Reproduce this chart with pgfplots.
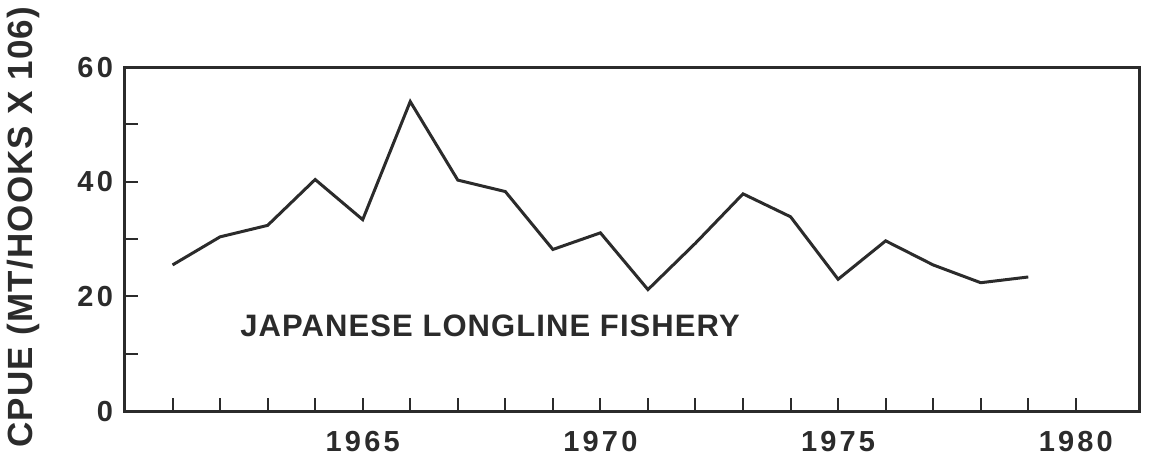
\documentclass[border=0pt]{standalone}
\usepackage{fontspec}
\setmainfont{Liberation Sans}
\newfontfamily\tickfont[LetterSpace=11]{Liberation Sans}
\newfontfamily\labfont[LetterSpace=3.5]{Liberation Sans}
\usepackage{pgfplots}
\pgfplotsset{compat=1.18}
\definecolor{ink}{HTML}{2B2B2B}
\begin{document}
\begin{tikzpicture}
\begin{axis}[
  at={(0,0)}, anchor=south west,
  scale only axis,
  width=507.5pt, height=172pt,
  xmin=1960, xmax=1981.35,
  ymin=0, ymax=60,
  xtick={1965,1970,1975,1980},
  minor xtick={1961,...,1980},
  ytick={0,20,40,60},
  minor ytick={10,30,50},
  xtick pos=bottom, ytick pos=left,
  tick align=inside,
  major tick length=6.5pt, minor tick length=6.5pt,
  every tick/.style={line width=1pt, ink},
  every minor tick/.style={line width=1pt, ink},
  axis line style={line width=1.5pt, ink},
  /pgf/number format/assume math mode=true,
  /pgf/number format/1000 sep={},
  ticklabel style={font=\tickfont\bfseries\fontsize{14.5}{14.5}\selectfont, text=ink},
  yticklabel style={xshift=-2.5pt},
  xticklabel style={yshift=-6.5pt},
  ylabel={CPUE (MT/HOOKS X 106)},
  every axis y label/.style={at={(axis description cs:-0.1005,0.535)}, rotate=90, anchor=center,
     font=\labfont\bfseries\fontsize{17.5}{17.5}\selectfont, text=ink},
  clip=false,
]
\addplot[ink, line width=1.5pt, line join=miter] coordinates {
  (1961,25.5) (1962,30.4) (1963,32.4) (1964,40.4) (1965,33.4) (1966,54.0)
  (1967,40.3) (1968,38.3) (1969,28.2) (1970,31.1) (1971,21.2) (1972,29.3)
  (1973,37.9) (1974,33.9) (1975,23.0) (1976,29.7) (1977,25.5) (1978,22.4)
  (1979,23.4)
};
\node[anchor=west, inner sep=0pt, text=ink, font=\labfont\bfseries\fontsize{15.5}{15.5}\selectfont]
  at (axis cs:1962.42,14.9) {JAPANESE LONGLINE FISHERY};
\end{axis}
\path[use as bounding box] (-62.5pt,-27pt) rectangle (519.5pt,205.5pt);
\end{tikzpicture}
\end{document}
